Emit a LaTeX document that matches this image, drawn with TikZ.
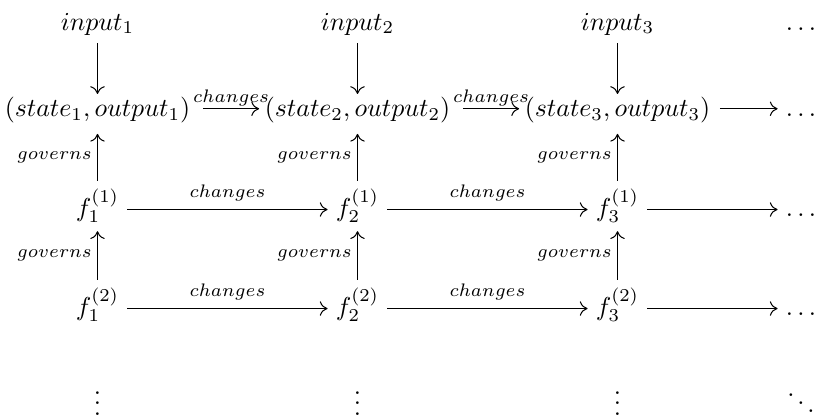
\documentclass[tikz,border=0pt]{standalone}
\usepackage{amsmath}
\usetikzlibrary{arrows.meta}
\begin{document}
\begin{tikzpicture}[x=0.3861pt,y=-0.3861pt,
  cell/.style={anchor=base, inner xsep=3pt, inner ysep=3pt},
  scell/.style={anchor=base, inner xsep=0pt, inner ysep=1pt},
  arr/.style={-{To[length=3pt,width=5.6pt]}, line width=0.4pt},
  chgA/.style={midway, above, inner sep=0.8pt},
  chgB/.style={midway, above, inner sep=3pt},
  gov/.style={midway, left, inner sep=2pt}]
\useasboundingbox (0,0) rectangle (818,417);
% row 1
\node[cell] (i1) at (97.5,30) {$input_1$};
\node[cell] (i2) at (357.5,30) {$input_2$};
\node[cell] (i3) at (617.5,30) {$input_3$};
\node[cell] (i4) at (801,30) {$\ldots$};
% row 2
\node[scell] (s1) at (97.5,116.5) {$(state_1, output_1)$};
\node[scell] (s2) at (357.5,116.5) {$(state_2, output_2)$};
\node[scell] (s3) at (617.5,116.5) {$(state_3, output_3)$};
\node[cell] (s4) at (801,116.5) {$\ldots$};
% row 3
\node[cell] (a1) at (97.5,216) {$f^{(1)}_1$};
\node[cell] (a2) at (357.5,216) {$f^{(1)}_2$};
\node[cell] (a3) at (617.5,216) {$f^{(1)}_3$};
\node[cell] (a4) at (801,216) {$\ldots$};
% row 4
\node[cell] (b1) at (97.5,315) {$f^{(2)}_1$};
\node[cell] (b2) at (357.5,315) {$f^{(2)}_2$};
\node[cell] (b3) at (617.5,315) {$f^{(2)}_3$};
\node[cell] (b4) at (801,315) {$\ldots$};
% row 5
\node[cell] (c1) at (97.5,415) {$\vdots$};
\node[cell] (c2) at (357.5,415) {$\vdots$};
\node[cell] (c3) at (617.5,415) {$\vdots$};
\node[cell] (c4) at (801,415) {$\ddots$};
% input arrows
\draw[arr] (i1.south) -- (s1.north);
\draw[arr] (i2.south) -- (s2.north);
\draw[arr] (i3.south) -- (s3.north);
% state row arrows
\draw[arr] ([xshift=4.8pt,yshift=3pt]s1.base east) -- node[chgA] {$\scriptstyle changes$} ([xshift=-2pt,yshift=3pt]s2.base west);
\draw[arr] ([xshift=4.8pt,yshift=3pt]s2.base east) -- node[chgA] {$\scriptstyle changes$} ([xshift=-2pt,yshift=3pt]s3.base west);
\draw[arr] ([xshift=3.5pt,yshift=3pt]s3.base east) -- ([yshift=3pt]s4.base west);
% governs to state
\draw[arr] (a1.north) -- node[gov] {$\scriptstyle governs$} ([yshift=-3pt]s1.south);
\draw[arr] (a2.north) -- node[gov] {$\scriptstyle governs$} ([yshift=-3pt]s2.south);
\draw[arr] (a3.north) -- node[gov] {$\scriptstyle governs$} ([yshift=-3pt]s3.south);
% f1 row arrows
\draw[arr] ([yshift=2.5pt]a1.base east) -- node[chgB] {$\scriptstyle changes$} ([yshift=2.5pt]a2.base west);
\draw[arr] ([yshift=2.5pt]a2.base east) -- node[chgB] {$\scriptstyle changes$} ([yshift=2.5pt]a3.base west);
\draw[arr] ([yshift=2.5pt]a3.base east) -- ([yshift=2.5pt]a4.base west);
% governs f2 -> f1
\draw[arr] (b1.north) -- node[gov] {$\scriptstyle governs$} (a1.south);
\draw[arr] (b2.north) -- node[gov] {$\scriptstyle governs$} (a2.south);
\draw[arr] (b3.north) -- node[gov] {$\scriptstyle governs$} (a3.south);
% f2 row arrows
\draw[arr] ([yshift=2.5pt]b1.base east) -- node[chgB] {$\scriptstyle changes$} ([yshift=2.5pt]b2.base west);
\draw[arr] ([yshift=2.5pt]b2.base east) -- node[chgB] {$\scriptstyle changes$} ([yshift=2.5pt]b3.base west);
\draw[arr] ([yshift=2.5pt]b3.base east) -- ([yshift=2.5pt]b4.base west);
\end{tikzpicture}
\end{document}
